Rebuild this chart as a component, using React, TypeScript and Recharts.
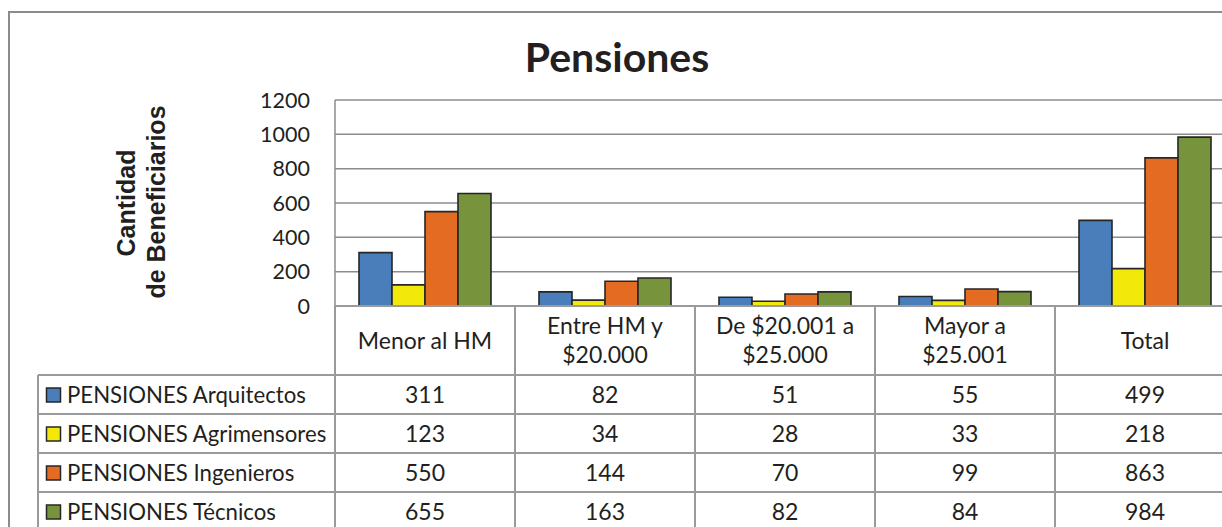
import React from "react";
import {
  BarChart,
  Bar,
  XAxis,
  YAxis,
  CartesianGrid,
} from "recharts";

const categories = [
  "Menor al HM",
  "Entre HM y\n$20.000",
  "De $20.001 a\n$25.000",
  "Mayor a\n$25.001",
  "Total",
];

const arquitectos = [311, 82, 51, 55, 499];
const agrimensores = [123, 34, 28, 33, 218];
const ingenieros = [550, 144, 70, 99, 863];
const tecnicos = [655, 163, 82, 84, 984];

const yTicks = [0, 200, 400, 600, 800, 1000, 1200];

const series = [
  { key: "arq", name: "PENSIONES Arquitectos", values: arquitectos, color: "#4a7ebb" },
  { key: "agr", name: "PENSIONES Agrimensores", values: agrimensores, color: "#f2e90a" },
  { key: "ing", name: "PENSIONES Ingenieros", values: ingenieros, color: "#e46c22" },
  { key: "tec", name: "PENSIONES Técnicos", values: tecnicos, color: "#77933c" },
];

const data = categories.map((c, i) => {
  const row: Record<string, any> = { category: c };
  series.forEach((s) => (row[s.key] = s.values[i]));
  return row;
});

const CHART_W = 1260;
const CHART_H = 527;
const Y_AXIS_W = 335;
const X_AXIS_H = 221;
const MARGIN = { top: 100, right: 25, left: 0, bottom: 0 };
const BAND = (CHART_W - MARGIN.left - MARGIN.right - Y_AXIS_W) / categories.length;

const GRID = "#8c8c8c";
const TABLE_LINE = "#9a9a9a";
const TEXT = "#231f20";
const FONT = "Lato, 'Open Sans', sans-serif";
const TABLE_FS = 23;
const LEGEND_FS = 22.2;

const ROW_TOP = 375;
const ROW_H = 39;
const LEGEND_X = 38;
const TABLE_BOTTOM = 560;

function TableColumn(props: any) {
  const { x, y, payload } = props;
  const i = payload.index;
  const lines = categories[i].split("\n");
  const headerMid = (y + ROW_TOP) / 2;
  const lineH = 29;
  const firstBase = headerMid + 8 - ((lines.length - 1) * lineH) / 2;

  return (
    <g>
      <line x1={x + BAND / 2} x2={x + BAND / 2} y1={y} y2={TABLE_BOTTOM} stroke={TABLE_LINE} strokeWidth={2} />
      {i === 0 && (
        <g>
          <line x1={x - BAND / 2} x2={x - BAND / 2} y1={y} y2={TABLE_BOTTOM} stroke={TABLE_LINE} strokeWidth={2} />
          <line x1={LEGEND_X} x2={LEGEND_X} y1={ROW_TOP} y2={TABLE_BOTTOM} stroke={TABLE_LINE} strokeWidth={2} />
          {series.map((s, r) => (
            <g key={s.key}>
              <line
                x1={LEGEND_X}
                x2={CHART_W}
                y1={ROW_TOP + r * ROW_H}
                y2={ROW_TOP + r * ROW_H}
                stroke={TABLE_LINE}
                strokeWidth={2}
              />
              <rect
                x={46.5}
                y={ROW_TOP + r * ROW_H + 13}
                width={14}
                height={14}
                fill={s.color}
                stroke="#262626"
                strokeWidth={1.5}
              />
              <text
                x={67}
                y={ROW_TOP + r * ROW_H + 28}
                fontSize={LEGEND_FS}
                fontFamily={FONT}
                fill={TEXT}
              >
                {s.name}
              </text>
            </g>
          ))}
          <line
            x1={LEGEND_X}
            x2={CHART_W}
            y1={ROW_TOP + series.length * ROW_H}
            y2={ROW_TOP + series.length * ROW_H}
            stroke={TABLE_LINE}
            strokeWidth={2}
          />
        </g>
      )}
      <text x={x} textAnchor="middle" fontSize={TABLE_FS} fontFamily={FONT} fill={TEXT}>
        {lines.map((l, k) => (
          <tspan key={k} x={x} y={firstBase + k * lineH}>
            {l}
          </tspan>
        ))}
      </text>
      {series.map((s, r) => (
        <text
          key={s.key}
          x={x}
          y={ROW_TOP + r * ROW_H + 28}
          textAnchor="middle"
          fontSize={TABLE_FS}
          fontFamily={FONT}
          fill={TEXT}
        >
          {s.values[i]}
        </text>
      ))}
    </g>
  );
}

export default function App() {
  return (
    <div
      style={{
        position: "absolute",
        left: 0,
        top: 0,
        width: 1222,
        height: 527,
        overflow: "hidden",
        background: "#fff",
      }}
    >
      <div
        style={{
          position: "absolute",
          left: 8,
          top: 11,
          width: 1400,
          height: 700,
          border: "2px solid #8c8c8c",
          boxSizing: "border-box",
        }}
      />
      <div style={{ position: "absolute", left: 0, top: 0 }}>
        <BarChart
          width={CHART_W}
          height={CHART_H}
          data={data}
          margin={MARGIN}
          barCategoryGap={24}
          barGap={0}
        >
          <CartesianGrid vertical={false} stroke={GRID} strokeWidth={1.5} />
          <XAxis
            dataKey="category"
            height={X_AXIS_H}
            interval={0}
            tickSize={0}
            tickMargin={0}
            tickLine={false}
            axisLine={{ stroke: TABLE_LINE, strokeWidth: 2 }}
            tick={(p: any) => <TableColumn {...p} />}
          />
          <YAxis
            width={Y_AXIS_W}
            domain={[0, 1200]}
            ticks={yTicks}
            interval={0}
            tickSize={0}
            tickMargin={25}
            tickLine={false}
            axisLine={{ stroke: GRID, strokeWidth: 1.5 }}
            tick={{ fontSize: 21.5, fill: TEXT, fontFamily: FONT }}
          />
          {series.map((s) => (
            <Bar
              key={s.key}
              dataKey={s.key}
              name={s.name}
              fill={s.color}
              stroke="#262626"
              strokeWidth={1.6}
              isAnimationActive={false}
            />
          ))}
        </BarChart>
      </div>
      <svg
        width={1222}
        height={527}
        style={{ position: "absolute", left: 0, top: 0, pointerEvents: "none" }}
      >
        <text
          x={617}
          y={72}
          textAnchor="middle"
          fontSize={41}
          fontWeight="bold"
          fontFamily={FONT}
          fill={TEXT}
        >
          Pensiones
        </text>
        <text
          transform="rotate(-90, 135, 203)"
          x={135}
          y={203}
          textAnchor="middle"
          fontSize={25}
          fontWeight="bold"
          fontFamily="'Liberation Sans', Arial, sans-serif"
          fill={TEXT}
        >
          Cantidad
        </text>
        <text
          transform="rotate(-90, 165, 202)"
          x={165}
          y={202}
          textAnchor="middle"
          fontSize={25}
          fontWeight="bold"
          fontFamily="'Liberation Sans', Arial, sans-serif"
          fill={TEXT}
        >
          de Beneficiarios
        </text>
      </svg>
    </div>
  );
}
